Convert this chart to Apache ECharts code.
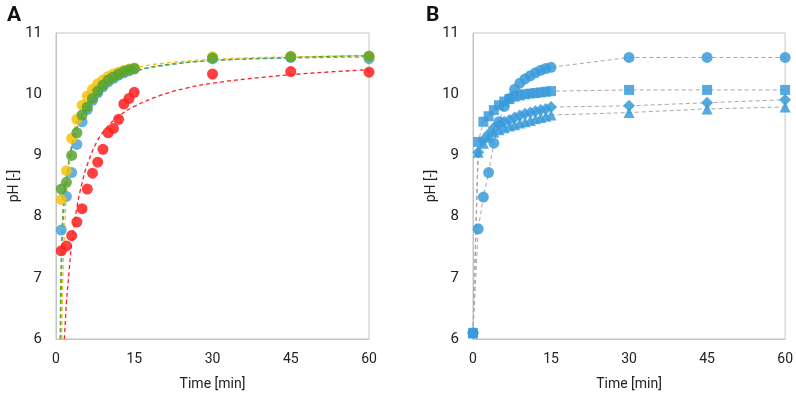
<!DOCTYPE html>
<html>
<head>
<meta charset="utf-8">
<script src="https://cdn.jsdelivr.net/npm/echarts@6/dist/echarts.min.js"></script>
<style>
  html, body { margin: 0; padding: 0; background: #fff; }
  #chart { width: 796px; height: 397px; }
</style>
</head>
<body>
<div id="chart"></div>
<script>
// panel A: measured points
const timeA = [1, 2, 3, 4, 5, 6, 7, 8, 9, 10, 11, 12, 13, 14, 15, 30, 45, 60]
const blueA = [7.78, 8.33, 8.72, 9.18, 9.55, 9.75, 9.9, 10.02, 10.12, 10.2, 10.26, 10.31, 10.35, 10.38, 10.41, 10.58, 10.6, 10.58]
const yellowA = [8.28, 8.75, 9.28, 9.59, 9.82, 9.97, 10.08, 10.17, 10.23, 10.29, 10.33, 10.36, 10.39, 10.41, 10.43, 10.61, 10.62, 10.62]
const greenA = [8.45, 8.56, 9.0, 9.37, 9.66, 9.79, 9.93, 10.05, 10.15, 10.23, 10.28, 10.33, 10.37, 10.4, 10.42, 10.59, 10.61, 10.62]
const redA = [7.44, 7.52, 7.69, 7.91, 8.13, 8.45, 8.71, 8.89, 9.1, 9.37, 9.44, 9.59, 9.84, 9.93, 10.03, 10.33, 10.37, 10.36]

// panel A: fitted trend lines
const fitBlueT = [0.9, 1.0, 1.2, 1.5, 2, 3, 4, 5, 6, 8, 10, 12, 15, 20, 30, 45, 60]
const fitBlue = [6.0, 6.7, 7.5, 8.1, 8.55, 9.1, 9.43, 9.66, 9.83, 10.04, 10.18, 10.27, 10.37, 10.46, 10.55, 10.59, 10.61]
const fitYellowT = [1.1, 1.2, 1.4, 1.7, 2, 2.5, 3, 4, 5, 6, 8, 10, 12, 15, 20, 30, 45, 60]
const fitYellow = [6.0, 6.57, 7.21, 7.88, 8.34, 8.85, 9.18, 9.59, 9.83, 9.99, 10.18, 10.29, 10.36, 10.43, 10.5, 10.57, 10.61, 10.63]
const fitGreenT = [0.8, 0.9, 1.0, 1.2, 1.5, 2, 3, 4, 5, 6, 8, 10, 12, 15, 20, 30, 45, 60]
const fitGreen = [6.0, 6.8, 7.3, 7.85, 8.3, 8.65, 9.15, 9.48, 9.7, 9.86, 10.06, 10.2, 10.29, 10.38, 10.47, 10.55, 10.6, 10.63]
const fitRedT = [1.6, 1.8, 2, 2.5, 3, 4, 5, 6, 8, 10, 12, 15, 20, 25, 30, 40, 50, 60]
const fitRed = [6.0, 6.3, 6.6, 7.1, 7.55, 8.15, 8.55, 8.85, 9.25, 9.48, 9.64, 9.8, 9.98, 10.1, 10.18, 10.28, 10.35, 10.4]

// panel B
const timeB = [0, 1, 2, 3, 4, 5, 6, 7, 8, 9, 10, 11, 12, 13, 14, 15, 30, 45, 60]
const circleB = [6.1, 7.8, 8.32, 8.72, 9.2, 9.55, 9.8, 9.93, 10.08, 10.18, 10.25, 10.3, 10.35, 10.39, 10.42, 10.44, 10.6, 10.6, 10.6]
const squareB = [6.1, 9.22, 9.55, 9.64, 9.74, 9.82, 9.88, 9.92, 9.96, 9.98, 10.0, 10.01, 10.02, 10.03, 10.04, 10.05, 10.07, 10.07, 10.07]
const diamondB = [6.1, 9.05, 9.25, 9.35, 9.45, 9.5, 9.55, 9.58, 9.62, 9.65, 9.68, 9.7, 9.72, 9.74, 9.76, 9.79, 9.81, 9.86, 9.91]
const triangleB = [6.1, 9.05, 9.2, 9.3, 9.38, 9.42, 9.45, 9.48, 9.5, 9.53, 9.55, 9.57, 9.6, 9.62, 9.64, 9.66, 9.7, 9.76, 9.79]

const xTicks = [0, 15, 30, 45, 60]
const yTicks = [6, 7, 8, 9, 10, 11]

const colors = {
  blue: '#4ba3dc',
  yellow: '#f5c20f',
  green: '#56a530',
  red: '#ff1e1e',
  bBlue: '#3a9bdb'
}

const font = 'Roboto, "Open Sans", sans-serif'
const zip = (xs, ys) => xs.map((x, i) => [x, ys[i]])

const chart = echarts.init(document.getElementById('chart'), null, { renderer: 'canvas' })

const makeX = (gridIndex) => ({
  type: 'value',
  gridIndex,
  min: xTicks[0],
  max: xTicks[xTicks.length - 1],
  interval: 15,
  name: 'Time [min]',
  nameLocation: 'middle',
  nameGap: 38,
  nameTextStyle: { color: '#222', fontSize: 14, fontFamily: font },
  axisLine: { show: true, lineStyle: { color: '#c4c4c4' } },
  axisTick: { show: false },
  splitLine: { show: false },
  axisLabel: { color: '#222', fontSize: 14, fontFamily: font, margin: 13 }
})

const makeY = (gridIndex) => ({
  type: 'value',
  gridIndex,
  min: yTicks[0],
  max: yTicks[yTicks.length - 1],
  interval: 1,
  name: 'pH [-]',
  nameLocation: 'middle',
  nameGap: 34,
  nameTextStyle: { color: '#222', fontSize: 14, fontFamily: font },
  axisLine: { show: true, lineStyle: { color: '#c4c4c4' } },
  axisTick: { show: false },
  splitLine: { show: false },
  axisLabel: { color: '#222', fontSize: 15, fontFamily: font, margin: 14 }
})

const scatterA = (name, data, color) => ({
  name,
  type: 'scatter',
  xAxisIndex: 0,
  yAxisIndex: 0,
  data: zip(timeA, data),
  symbolSize: 11,
  itemStyle: { color, opacity: 0.85 },
  z: 3
})

const fitA = (name, xs, ys, color) => ({
  name,
  type: 'line',
  xAxisIndex: 0,
  yAxisIndex: 0,
  data: zip(xs, ys),
  smooth: 0.4,
  showSymbol: false,
  lineStyle: { color, width: 1.3, type: [4, 3] },
  z: 2
})

const lineB = (name, data, symbol, size) => ({
  name,
  type: 'line',
  xAxisIndex: 1,
  yAxisIndex: 1,
  data: zip(timeB, data),
  symbol,
  symbolSize: size,
  lineStyle: { color: '#a8a8a8', width: 1, type: [4, 3] },
  itemStyle: { color: colors.bBlue, opacity: 0.85 },
  z: 3
})

const option = {
  animation: false,
  backgroundColor: '#fff',
  title: [
    { text: 'A', left: 2, top: 0, textStyle: { fontSize: 21, fontWeight: 'bold', color: '#111', fontFamily: font } },
    { text: 'B', left: 421, top: 0, textStyle: { fontSize: 21, fontWeight: 'bold', color: '#111', fontFamily: font } }
  ],
  grid: [
    { left: 56, top: 33, width: 313, height: 306, show: true, borderColor: '#c4c4c4', borderWidth: 1 },
    { left: 473, top: 33, width: 314, height: 306, show: true, borderColor: '#c4c4c4', borderWidth: 1 }
  ],
  xAxis: [makeX(0), makeX(1)],
  yAxis: [makeY(0), makeY(1)],
  series: [
    fitA('fit blue', fitBlueT, fitBlue, colors.blue),
    fitA('fit yellow', fitYellowT, fitYellow, colors.yellow),
    fitA('fit green', fitGreenT, fitGreen, colors.green),
    fitA('fit red', fitRedT, fitRed, colors.red),
    scatterA('blue', blueA, colors.blue),
    scatterA('yellow', yellowA, colors.yellow),
    scatterA('green', greenA, colors.green),
    scatterA('red', redA, colors.red),
    lineB('circle', circleB, 'circle', 11),
    lineB('square', squareB, 'rect', 10),
    lineB('diamond', diamondB, 'diamond', 12),
    lineB('triangle', triangleB, 'triangle', 11)
  ]
}

chart.setOption(option)
</script>
</body>
</html>
